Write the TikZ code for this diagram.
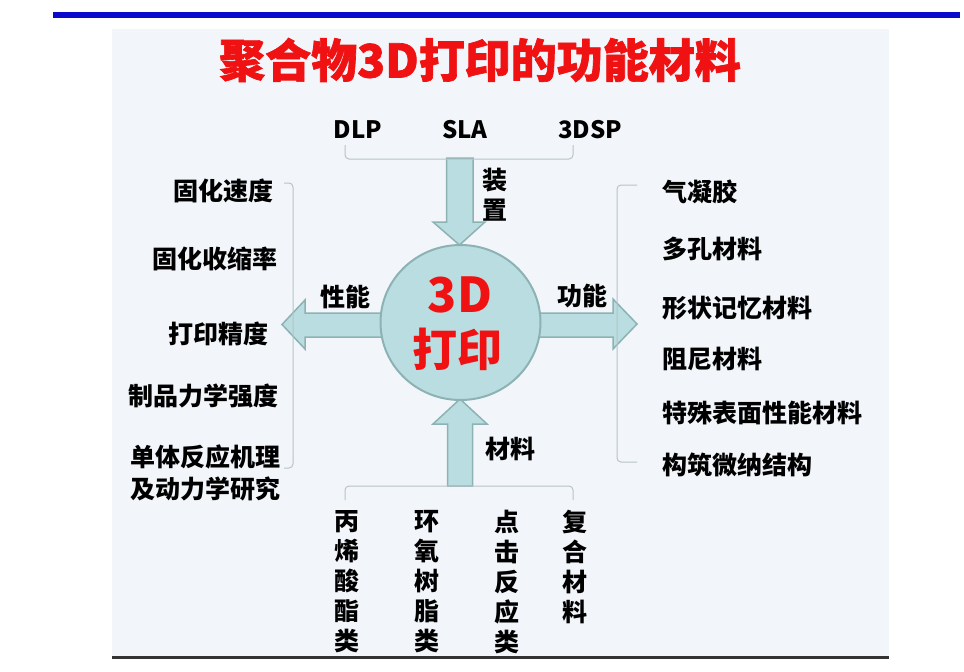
\documentclass[tikz,border=0pt]{standalone}
\usepackage{fontspec}
\newfontfamily\cjk{Noto Sans CJK SC}
\newfontfamily\cjktitle{Noto Sans CJK SC}[BoldFeatures={FakeBold=1.5}]
\usetikzlibrary{shapes.geometric}
\definecolor{panelbg}{HTML}{F2F6FB}
\definecolor{topblue}{HTML}{0A0ACC}
\definecolor{arrowfill}{HTML}{B9DDE0}
\definecolor{arrowline}{HTML}{8DB2B4}
\definecolor{brk}{HTML}{B7C4C6}
\definecolor{titlered}{HTML}{F01212}
\definecolor{bottomline}{HTML}{333333}
\tikzset{
  lbl/.style={font=\cjk\bfseries\fontsize{25}{30}\selectfont, inner sep=0pt, text=black},
  lat/.style={font=\cjk\bfseries\fontsize{24}{28}\selectfont, inner sep=0pt, text=black},
  bracket/.style={draw=brk, line width=1pt, rounded corners=4pt},
  bigarrow/.style={fill=arrowfill, draw=arrowline, line width=1.5pt, line join=miter},
}
\begin{document}
\begin{tikzpicture}[x=1pt,y=-1pt]
\useasboundingbox (0,0) rectangle (964,672);
% background panel
\fill[panelbg] (112,29) rectangle (889,657);
\fill[bottomline] (112,655.5) rectangle (889,659);
\fill[topblue] (53,12) rectangle (960,17.5);
% title
\node[font=\cjktitle\bfseries\fontsize{46}{50}\selectfont, text=titlered, inner sep=0pt] (title) at (480,60) {聚合物3D打印的功能材料};
% arrows
\draw[bigarrow] (446.5,158) -- (473,158) -- (473,222) -- (485,222) -- (459.5,245) -- (433,222) -- (446.5,222) -- cycle;
\draw[bigarrow] (447.5,486) -- (472.5,486) -- (472.5,424) -- (487,424) -- (460,399) -- (433,424) -- (447.5,424) -- cycle;
\draw[bigarrow] (390,313) -- (305,313) -- (305,300) -- (282,324.5) -- (305,349) -- (305,337) -- (390,337) -- cycle;
\draw[bigarrow] (530,313) -- (613,313) -- (613,299) -- (637,324) -- (613,349) -- (613,337) -- (530,337) -- cycle;
% core circle
\node[ellipse, minimum width=160pt, minimum height=155pt, inner sep=0pt, fill=arrowfill, draw=arrowline, line width=2pt] (core) at (460.5,322.5) {};
\node[font=\cjk\bfseries\fontsize{48}{52}\selectfont, text=titlered, inner sep=0pt] (c3d) at (460,295) {3D};
\node[font=\cjk\bfseries\fontsize{45}{50}\selectfont, text=titlered, inner sep=0pt] (cdy) at (457,349) {打印};
% brackets
\draw[bracket] (345,145) -- (345,159) -- (573,159) -- (573,145);
\draw[bracket] (284,183) -- (293,183) -- (293,468) -- (284,468);
\draw[bracket] (637,185) -- (617,185) -- (617,462) -- (637,462);
\draw[bracket] (345,500) -- (345,486) -- (573,486) -- (573,500);
% top labels
\node[lat] (dlp) at (358,130) {DLP};
\node[lat] (sla) at (465,130) {SLA};
\node[lat] (dsp) at (590,130) {3DSP};
\node[lbl, align=center] (zz) at (495,195) {装\\置};
% side labels
\node[lbl] (xn) at (345,297) {性能};
\node[lbl] (gn) at (582,296) {功能};
\node[lbl] (cl) at (510,449) {材料};
% left list
\node[lbl, anchor=east] (l1) at (274,191) {固化速度};
\node[lbl, anchor=east] (l2) at (278,259) {固化收缩率};
\node[lbl, anchor=east] (l3) at (269,334) {打印精度};
\node[lbl, anchor=east] (l4) at (279,396) {制品力学强度};
\node[lbl, anchor=east, align=center] (l5) at (281,473) {单体反应机理\\[2pt]及动力学研究};
% right list
\node[lbl, anchor=west] (r1) at (662,192) {气凝胶};
\node[lbl, anchor=west] (r2) at (662,249) {多孔材料};
\node[lbl, anchor=west] (r3) at (662,308) {形状记忆材料};
\node[lbl, anchor=west] (r4) at (662,359) {阻尼材料};
\node[lbl, anchor=west] (r5) at (662,413) {特殊表面性能材料};
\node[lbl, anchor=west] (r6) at (662,465) {构筑微纳结构};
% bottom columns
\node[lbl, align=center] (b1) at (347,582) {丙\\烯\\酸\\酯\\类};
\node[lbl, align=center] (b2) at (427,582) {环\\氧\\树\\脂\\类};
\node[lbl, align=center] (b3) at (507,582) {点\\击\\反\\应\\类};
\node[lbl, align=center] (b4) at (575,567) {复\\合\\材\\料};
\end{tikzpicture}
\end{document}
